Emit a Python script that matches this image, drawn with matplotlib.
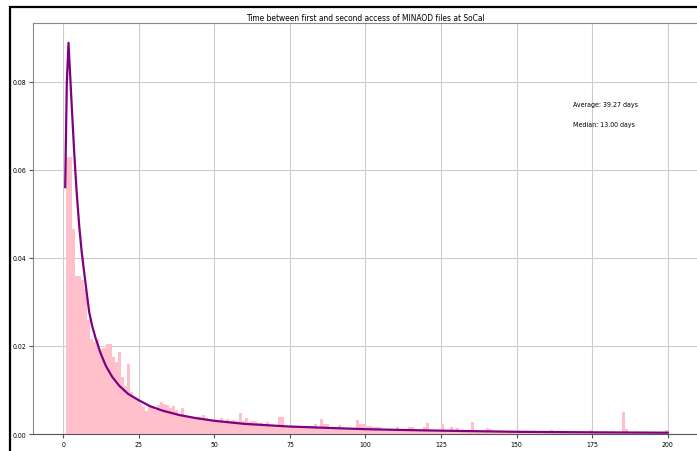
import matplotlib
matplotlib.use("Agg")
import matplotlib.pyplot as plt
from matplotlib.patches import Rectangle

# histogram: density per 1-day bin, bins [k, k+1) for k = 0..199
bin_edges = list(range(0, 201))
densidad = [
    0.0, 0.063, 0.063, 0.0466, 0.036, 0.036, 0.035, 0.033, 0.026, 0.0215,
    0.021, 0.0215, 0.019, 0.0195, 0.0205, 0.0205, 0.0175, 0.0163, 0.0186, 0.013,
    0.011, 0.0159, 0.0095, 0.0085, 0.008, 0.0068, 0.0061, 0.0053, 0.0064, 0.0064,
    0.0055, 0.0065, 0.0072, 0.0068, 0.0066, 0.0058, 0.0064, 0.0055, 0.0045, 0.0058,
    0.0042, 0.0040, 0.0038, 0.0036, 0.0038, 0.0038, 0.0043, 0.0036, 0.0030, 0.0030,
    0.0030, 0.0030, 0.0036, 0.0030, 0.0034, 0.0030, 0.0032, 0.0030, 0.0048, 0.0030,
    0.0037, 0.0028, 0.0029, 0.0029, 0.0025, 0.0024, 0.0022, 0.0027, 0.0020, 0.0020,
    0.0020, 0.0039, 0.0039, 0.0018, 0.0018, 0.0018, 0.0017, 0.0018, 0.0017, 0.0016,
    0.0016, 0.0016, 0.0018, 0.0022, 0.0016, 0.0034, 0.0023, 0.0022, 0.0015, 0.0014,
    0.0014, 0.0020, 0.0013, 0.0013, 0.0012, 0.0012, 0.0013, 0.0031, 0.0023, 0.0023,
    0.0019, 0.0019, 0.0015, 0.0015, 0.0015, 0.0012, 0.0011, 0.0011, 0.0010, 0.0010,
    0.0016, 0.0010, 0.0010, 0.0010, 0.0017, 0.0017, 0.0009, 0.0009, 0.0009, 0.0015,
    0.0024, 0.0010, 0.0009, 0.0009, 0.0009, 0.0023, 0.0009, 0.0008, 0.0017, 0.0008,
    0.0014, 0.0008, 0.0007, 0.0007, 0.0007, 0.0027, 0.0007, 0.0006, 0.0006, 0.0006,
    0.0013, 0.0012, 0.0006, 0.0006, 0.0005, 0.0005, 0.0006, 0.0005, 0.0005, 0.0005,
    0.0005, 0.0005, 0.0005, 0.0004, 0.0005, 0.0004, 0.0004, 0.0005, 0.0004, 0.0004,
    0.0004, 0.0010, 0.0004, 0.0004, 0.0004, 0.0003, 0.0004, 0.0003, 0.0003, 0.0004,
    0.0003, 0.0003, 0.0003, 0.0003, 0.0008, 0.0003, 0.0003, 0.0003, 0.0003, 0.0003,
    0.0003, 0.0003, 0.0003, 0.0003, 0.0003, 0.0049, 0.0011, 0.0003, 0.0003, 0.0003,
    0.0003, 0.0003, 0.0003, 0.0003, 0.0003, 0.0003, 0.0003, 0.0003, 0.0003, 0.0009,
]

# fitted density curve
ajuste_x = [0.66, 1.2, 1.76, 2.6, 3.64, 4.4, 5.3, 6.1, 6.95, 7.8, 8.6, 9.6, 10.8,
            12.4, 14.1, 16.2, 18.5, 21.5, 25.2, 28.8, 32.9, 38.5, 44.0, 50.0,
            60.0, 74.8, 87.0, 100.0, 112.0, 125.0, 150.0, 175.0, 200.0]
ajuste_y = [0.0561, 0.0800, 0.0889, 0.0775, 0.0640, 0.0555, 0.0473, 0.0415, 0.0367,
            0.0320, 0.0277, 0.0245, 0.0216, 0.0183, 0.0155, 0.0130, 0.0110, 0.0091,
            0.0076, 0.0063, 0.0053, 0.0043, 0.0036, 0.0030, 0.0023, 0.0017, 0.0014,
            0.0011, 0.00092, 0.00076, 0.00050, 0.00038, 0.00030]

promedio = 39.27
mediana = 13.00

plt.rcParams['font.family'] = ['DejaVu Sans']
plt.rcParams['font.stretch'] = 'condensed'

fig = plt.figure(figsize=(6.97, 4.52), dpi=100)
ax = fig.add_axes([0.0473, 0.0376, 0.9541, 0.9093])

ax.hist(bin_edges[:-1], bins=bin_edges, weights=densidad, color='pink')
ax.plot(ajuste_x, ajuste_y, color='purple', linewidth=1.6)

ax.text(168.5, 0.0750, 'Average: %.2f days' % promedio, fontsize=5, va='center')
ax.text(168.5, 0.0705, 'Median: %.2f days' % mediana, fontsize=5, va='center')

ax.set_title('Time between first and second access of MINAOD files at SoCal',
             fontsize=6, pad=2.5)
ax.set_xlim(-10, 210)
ax.set_ylim(0, 0.0934)
ax.set_xticks([0, 25, 50, 75, 100, 125, 150, 175, 200])
ax.set_yticks([0.0, 0.02, 0.04, 0.06, 0.08])
ax.yaxis.set_major_formatter(plt.FormatStrFormatter('%.2f'))
ax.tick_params(labelsize=5, length=3, width=0.8, color='#555555', pad=2)
ax.grid(True, color='#cccccc', linewidth=0.8)
ax.set_axisbelow(True)
for lado in ['left', 'top', 'right']:
    ax.spines[lado].set_color('#888888')
ax.spines['bottom'].set_color('#555555')

# outer frame
fig.patches.append(Rectangle((10 / 697, -0.1), 1.2, 1 - 7.5 / 452 + 0.1,
                             transform=fig.transFigure, fill=False,
                             edgecolor='black', linewidth=1.6))

fig.savefig('out.png', dpi=100)
